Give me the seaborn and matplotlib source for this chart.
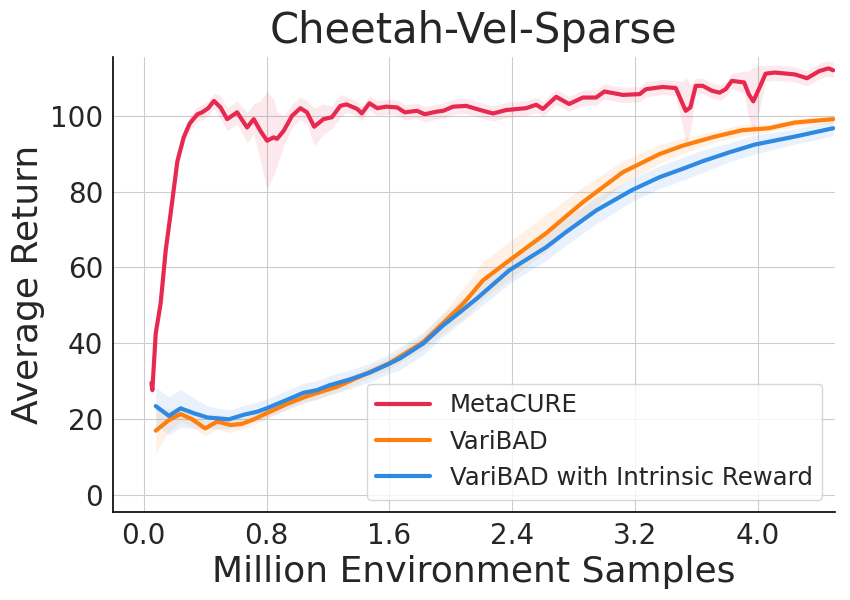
import numpy as np
import pandas as pd
import seaborn as sns
import matplotlib.pyplot as plt

# values (million samples, average return)
metacure_x = [0.05, 0.056, 0.078, 0.11, 0.143, 0.186, 0.219, 0.26, 0.30, 0.35, 0.38, 0.42,
              0.457, 0.50, 0.543, 0.608, 0.673, 0.716, 0.76, 0.803, 0.846, 0.868, 0.911,
              0.966, 1.02, 1.063, 1.11, 1.17, 1.225, 1.28, 1.32, 1.39, 1.42, 1.47, 1.52,
              1.58, 1.65, 1.70, 1.78, 1.83, 1.91, 1.95, 2.015, 2.10, 2.21, 2.275, 2.36,
              2.49, 2.556, 2.60, 2.686, 2.77, 2.86, 2.946, 3.0, 3.12, 3.23, 3.27, 3.38,
              3.465, 3.51, 3.53, 3.56, 3.595, 3.64, 3.70, 3.75, 3.79, 3.83, 3.91, 3.94,
              3.97, 4.02, 4.05, 4.11, 4.24, 4.32, 4.40, 4.46, 4.49]
metacure_y = [29.5, 27.6, 42.6, 50.5, 64.5, 77.6, 88.0, 94.3, 98.0, 100.4, 100.9, 102.0,
              103.9, 102.2, 99.1, 100.9, 96.9, 99.1, 96.0, 93.4, 94.3, 93.9, 96.0,
              100.0, 102.0, 100.9, 97.1, 99.1, 99.6, 102.6, 103.0, 101.8, 100.6, 103.3, 102.0,
              102.4, 102.2, 100.9, 101.3, 100.4, 101.1, 101.3, 102.4, 102.6, 101.3, 100.6, 101.5,
              102.0, 102.9, 101.8, 105.0, 103.1, 104.8, 104.8, 106.4, 105.5, 105.7, 107.0, 107.6,
              107.3, 103.1, 101.3, 102.2, 107.9, 107.9, 106.6, 106.1, 107.0, 109.2, 108.8, 105.7,
              103.8, 108.3, 111.1, 111.4, 110.9, 109.9, 111.8, 112.5, 112.0]
metacure_spread = [1, 1, 2, 2, 2, 2, 2, 2, 2, 2, 2, 2,
                   2, 3, 3, 3, 4, 4, 8, 13, 10, 7, 4,
                   3, 3, 3, 5, 4, 3, 3, 2, 2, 2, 2, 2,
                   2, 2, 2, 2, 2, 2, 2, 2, 2, 2, 2, 2,
                   2, 2, 2, 2, 2, 2, 2, 2, 2, 2, 2, 2,
                   2, 6, 9, 6, 2, 2, 2, 2, 2, 2, 3, 6,
                   9, 5, 2, 2, 2, 2, 2, 2, 2]

varibad_x = [0.078, 0.164, 0.24, 0.316, 0.40, 0.478, 0.565, 0.64, 0.716, 0.80, 0.93,
             1.063, 1.26, 1.43, 1.60, 1.82, 1.99, 2.08, 2.21, 2.38, 2.62, 2.86, 3.12,
             3.36, 3.51, 3.72, 3.90, 4.07, 4.24, 4.49]
varibad_y = [16.9, 19.7, 21.3, 19.9, 17.5, 19.3, 18.4, 18.7, 19.9, 21.5, 23.9,
             26.0, 28.5, 31.6, 34.7, 40.3, 46.9, 50.4, 56.6, 61.8, 69.0, 77.2, 85.1,
             89.9, 92.1, 94.5, 96.2, 96.7, 98.2, 99.1]
varibad_spread = [6, 3, 2, 2, 2, 2, 2, 1.5, 1.5, 1.5, 1.5,
                  1.5, 1.5, 1.5, 1.5, 2, 3, 4, 5, 5, 5, 4, 3,
                  2.5, 2, 1.5, 1.5, 1, 1, 1]

intrinsic_x = [0.078, 0.164, 0.24, 0.327, 0.413, 0.554, 0.651, 0.738, 0.80, 0.93, 1.04,
               1.128, 1.21, 1.34, 1.47, 1.58, 1.67, 1.82, 1.95, 2.06, 2.17, 2.38, 2.62,
               2.75, 2.946, 3.18, 3.36, 3.51, 3.64, 3.81, 3.98, 4.24, 4.49]
intrinsic_y = [23.4, 20.8, 22.8, 21.5, 20.4, 19.9, 21.1, 21.9, 22.8, 25.0, 26.9,
               27.6, 28.9, 30.4, 32.2, 34.2, 36.0, 39.9, 44.7, 48.2, 51.8, 59.2, 65.3,
               69.3, 75.0, 80.4, 83.8, 86.0, 88.0, 90.3, 92.4, 94.5, 96.7]
intrinsic_spread = [5, 5, 5, 4, 3, 2.5, 2.5, 2.5, 2.5, 2.5, 2.5,
                    2.5, 2.5, 2.5, 2.5, 2.5, 3, 3, 3, 3, 3, 3.5, 3.5,
                    3.5, 3.5, 3, 3, 3, 3, 2.5, 2.5, 2, 2]

names = ['MetaCURE', 'VariBAD', 'VariBAD with Intrinsic Reward']
colors = ['#e8294f', '#ff7f0e', '#2e89e3']

sns.set_style('whitegrid')
plt.rcParams['font.family'] = ['DejaVu Sans']

fig, ax = plt.subplots(figsize=(8.5, 6), dpi=100)

series = [(metacure_x, metacure_y, metacure_spread),
          (varibad_x, varibad_y, varibad_spread),
          (intrinsic_x, intrinsic_y, intrinsic_spread)]

for (x, y, s), name, c in zip(series, names, colors):
    df = pd.DataFrame({'x': x, 'y': y})
    sns.lineplot(data=df, x='x', y='y', color=c, linewidth=3, label=name, ax=ax)
    ax.fill_between(x, np.array(y) - np.array(s), np.array(y) + np.array(s),
                    color=c, alpha=0.1, linewidth=0)

ax.set_xlim(-0.2, 4.5)
ax.set_ylim(-4.5, 115.5)
ax.set_xticks([0.0, 0.8, 1.6, 2.4, 3.2, 4.0])
ax.set_yticks([0, 20, 40, 60, 80, 100])
ax.tick_params(labelsize=20, colors='#262626')
ax.set_title('Cheetah-Vel-Sparse', fontsize=30, color='#262626', pad=10)
ax.set_xlabel('Million Environment Samples', fontsize=26, color='#262626')
ax.set_ylabel('Average Return', fontsize=26, color='#262626')

for side in ['left', 'bottom']:
    ax.spines[side].set_color('black')
    ax.spines[side].set_linewidth(1.2)
sns.despine(ax=ax)

ax.legend(loc='lower right', fontsize=17.6, handlelength=2.2, frameon=True)

fig.subplots_adjust(left=0.133, right=0.982, top=0.905, bottom=0.147)
plt.savefig('out.png', dpi=100)
